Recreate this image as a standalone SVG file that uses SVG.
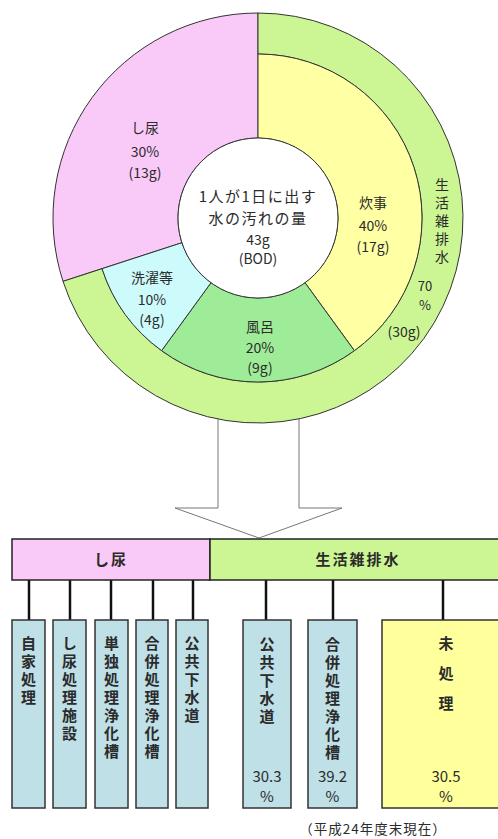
<svg xmlns="http://www.w3.org/2000/svg" width="498" height="839" viewBox="0 0 498 839">
<style>
text{font-family:"Noto Sans CJK JP","Noto Sans",sans-serif;fill:#2b2b2b;text-anchor:middle}
.d{font-size:14px}
.c{font-size:15px;letter-spacing:1.5px}
.h{font-size:15px;font-weight:bold;letter-spacing:2px}
.v{font-size:15px;font-weight:bold;writing-mode:vertical-rl;text-anchor:start;letter-spacing:3px}
.vd{font-size:14px;writing-mode:vertical-rl;text-anchor:start;letter-spacing:4px}
.n{font-size:15px}
.seg{stroke:#333;stroke-width:1}
.box{fill:#bfe0e6;stroke:#333;stroke-width:1.5}
.con{stroke:#111;stroke-width:2.5}
</style>
<rect width="498" height="839" fill="#fff"/>
<g id="arrow">
<polygon points="218,414 218,508 175,508 259,538 342,508 299,508 299,414" fill="#fff" stroke="#777" stroke-width="1"/>
</g>
<g id="donut">
<g id="shinyo">
<path class="seg" fill="#f9c9f8" d="M63.02 281.35 A205 205 0 0 1 258 13 L258 138 A80 80 0 0 0 181.91 242.72 Z"/>
<text class="d" x="145" y="133">し尿</text>
<text class="d" x="145" y="157">30%</text>
<text class="d" x="145" y="178">(13g)</text>
</g>
<g id="seikatsu">
<path class="seg" fill="#ccf694" d="M258 13 A205 205 0 1 1 63.02 281.35 L102.02 268.68 A164 164 0 1 0 258 54 Z"/>
<text class="vd" x="442" y="178">生活雑排水</text>
<text class="d" x="425" y="291" style="font-size:13px">70</text>
<text class="d" x="425" y="310" style="font-size:13px">%</text>
<text class="d" x="404" y="337">(30g)</text>
</g>
<g id="suiji">
<path class="seg" fill="#ffffa3" d="M258 54 A164 164 0 0 1 354.40 350.68 L305.02 282.72 A80 80 0 0 0 258 138 Z"/>
<text class="d" x="373" y="208">炊事</text>
<text class="d" x="373" y="231">40%</text>
<text class="d" x="373" y="252">(17g)</text>
</g>
<g id="furo">
<path class="seg" fill="#9fec98" d="M354.40 350.68 A164 164 0 0 1 161.60 350.68 L210.98 282.72 A80 80 0 0 0 305.02 282.72 Z"/>
<text class="d" x="260" y="332">風呂</text>
<text class="d" x="260" y="353">20%</text>
<text class="d" x="260" y="373">(9g)</text>
</g>
<g id="sentaku">
<path class="seg" fill="#cdfbfb" d="M161.60 350.68 A164 164 0 0 1 102.02 268.68 L181.91 242.72 A80 80 0 0 0 210.98 282.72 Z"/>
<text class="d" x="152" y="283">洗濯等</text>
<text class="d" x="152" y="305">10%</text>
<text class="d" x="152" y="325">(4g)</text>
</g>
<g id="center">
<circle cx="258" cy="218" r="80" fill="#fff" class="seg"/>
<text class="c" x="258" y="202">1人が1日に出す</text>
<text class="c" x="258" y="224">水の汚れの量</text>
<text class="d" x="258" y="245">43g</text>
<text class="d" x="258" y="264">(BOD)</text>
</g>
</g>
<g id="connectors">
<line class="con" x1="29" y1="580" x2="29" y2="620"/>
<line class="con" x1="70" y1="580" x2="70" y2="620"/>
<line class="con" x1="111" y1="580" x2="111" y2="620"/>
<line class="con" x1="153" y1="580" x2="153" y2="620"/>
<line class="con" x1="193" y1="580" x2="193" y2="620"/>
<line class="con" x1="266" y1="580" x2="266" y2="620"/>
<line class="con" x1="333" y1="580" x2="333" y2="620"/>
<line class="con" x1="443" y1="580" x2="443" y2="620"/>
</g>
<g id="header-shinyo">
<rect x="12" y="539" width="198" height="41" fill="#f9c9f8" stroke="#222" stroke-width="1.5"/>
<text class="h" x="111" y="565">し尿</text>
</g>
<g id="header-seikatsu">
<rect x="210" y="539" width="292" height="41" fill="#ccf694" stroke="#222" stroke-width="1.5"/>
<text class="h" x="358" y="565">生活雑排水</text>
</g>
<g id="box-jika">
<rect class="box" x="12" y="620" width="33" height="188"/>
<text class="v" x="28.5" y="635.5">自家処理</text>
</g>
<g id="box-shinyoshori">
<rect class="box" x="53" y="620" width="33" height="188"/>
<text class="v" x="69.5" y="635.5">し尿処理施設</text>
</g>
<g id="box-tandoku">
<rect class="box" x="95" y="620" width="33" height="188"/>
<text class="v" x="111.5" y="635.5">単独処理浄化槽</text>
</g>
<g id="box-gappei1">
<rect class="box" x="136" y="620" width="32" height="188"/>
<text class="v" x="152" y="635.5">合併処理浄化槽</text>
</g>
<g id="box-kokyo1">
<rect class="box" x="176" y="620" width="32" height="188"/>
<text class="v" x="192" y="635.5">公共下水道</text>
</g>
<g id="box-kokyo2">
<rect class="box" x="243" y="620" width="48" height="188"/>
<text class="v" x="267" y="637">公共下水道</text>
<text class="n" x="267" y="782">30.3</text>
<text class="n" x="267" y="802">%</text>
</g>
<g id="box-gappei2">
<rect class="box" x="308" y="620" width="49" height="188"/>
<text class="v" x="332.5" y="637">合併処理浄化槽</text>
<text class="n" x="332.5" y="782">39.2</text>
<text class="n" x="332.5" y="802">%</text>
</g>
<g id="box-mishori">
<rect x="382" y="620" width="120" height="188" fill="#ffff9c" stroke="#333" stroke-width="1.5"/>
<text class="v" x="446" y="635.5" style="letter-spacing:15px">未処理</text>
<text class="n" x="446" y="782">30.5</text>
<text class="n" x="446" y="802">%</text>
</g>
<text x="373" y="834" style="font-size:13.5px;letter-spacing:1px">（平成24年度末現在）</text>
</svg>
